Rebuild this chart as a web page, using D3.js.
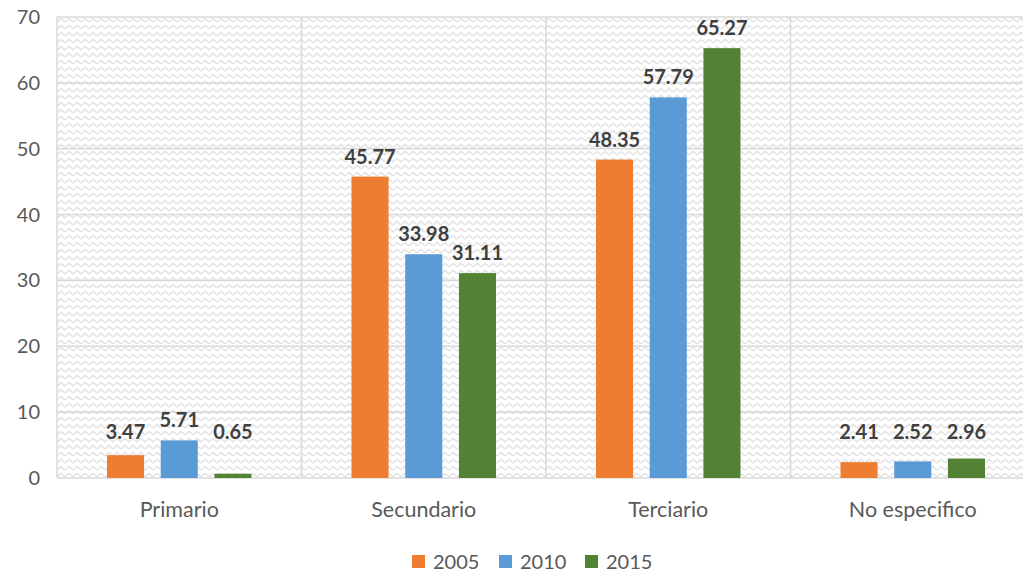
<!DOCTYPE html>
<html>
<head>
<meta charset="utf-8">
<script src="https://cdn.jsdelivr.net/npm/d3@7"></script>
<style>
  body { margin: 0; background: #fff; }
  svg { display: block; font-family: Lato, "Open Sans", sans-serif; }
</style>
</head>
<body>
<div id="chart"></div>
<script>
// Data
var categories = ["Primario", "Secundario", "Terciario", "No especifico"];
var years = ["2005", "2010", "2015"];
var values2005 = [3.47, 45.77, 48.35, 2.41];
var values2010 = [5.71, 33.98, 57.79, 2.52];
var values2015 = [0.65, 31.11, 65.27, 2.96];
var yTicks = [0, 10, 20, 30, 40, 50, 60, 70];
var colors = ["#ED7D31", "#5B9BD5", "#548235"];

var series = [values2005, values2010, values2015];

// Chart dimensions
var width = 1023, height = 573;
var margin = { top: 17, right: -12, bottom: 95, left: 57 };
var innerW = width - margin.left - margin.right;
var innerH = height - margin.top - margin.bottom;

var svg = d3.select("#chart").append("svg")
    .attr("width", width)
    .attr("height", height);

// zigzag background pattern
var defs = svg.append("defs");
var pat = defs.append("pattern")
    .attr("id", "zigzag")
    .attr("patternUnits", "userSpaceOnUse")
    .attr("width", 8).attr("height", 7);
pat.append("rect").attr("width", 8).attr("height", 7).attr("fill", "#ffffff");
pat.append("path")
    .attr("d", "M0,5 L4,1.5 L8,5")
    .attr("fill", "none")
    .attr("stroke", "#e2e2e2")
    .attr("stroke-width", 1.4);

var g = svg.append("g")
    .attr("transform", "translate(" + margin.left + "," + margin.top + ")");

// Scales
var x0 = d3.scaleBand().domain(categories).range([0, innerW]).paddingInner(0).paddingOuter(0);
var x1 = d3.scaleBand().domain(years).range([50, x0.bandwidth() - 50]).paddingInner(0.31).paddingOuter(0);
var y = d3.scaleLinear().domain([0, 70]).range([innerH, 0]);

g.append("rect")
    .attr("width", innerW).attr("height", innerH)
    .attr("fill", "url(#zigzag)");

// gridlines
g.selectAll(".hgrid").data(yTicks).enter().append("line")
    .attr("x1", 0).attr("x2", innerW)
    .attr("y1", function (d) { return y(d); })
    .attr("y2", function (d) { return y(d); })
    .attr("stroke", "#d9d9d9").attr("stroke-width", 1.5);

g.selectAll(".vgrid").data(categories).enter().append("line")
    .attr("x1", function (d) { return x0(d); })
    .attr("x2", function (d) { return x0(d); })
    .attr("y1", 0).attr("y2", innerH)
    .attr("stroke", "#d9d9d9").attr("stroke-width", 1.5);

// Y axis labels
g.selectAll(".ylab").data(yTicks).enter().append("text")
    .attr("x", -17)
    .attr("y", function (d) { return y(d); })
    .attr("dy", "0.35em")
    .attr("text-anchor", "end")
    .attr("font-size", 20)
    .attr("fill", "#595959")
    .text(function (d) { return d; });

// category labels
g.selectAll(".xlab").data(categories).enter().append("text")
    .attr("x", function (d) { return x0(d) + x0.bandwidth() / 2; })
    .attr("y", innerH + 31)
    .attr("dy", "0.35em")
    .attr("text-anchor", "middle")
    .attr("font-size", 21.5)
    .attr("fill", "#595959")
    .text(function (d) { return d; });

// bars
years.forEach(function (yr, si) {
    var vals = series[si];
    g.selectAll(".bar" + yr).data(categories).enter().append("rect")
        .attr("x", function (d) { return x0(d) + x1(yr); })
        .attr("width", x1.bandwidth())
        .attr("y", function (d, i) { return y(vals[i]); })
        .attr("height", function (d, i) { return innerH - y(vals[i]); })
        .attr("fill", colors[si]);

    g.selectAll(".lbl" + yr).data(categories).enter().append("text")
        .attr("x", function (d) { return x0(d) + x1(yr) + x1.bandwidth() / 2; })
        .attr("y", function (d, i) { return Math.min(y(vals[i]) - 20, innerH - 46); })
        .attr("dy", "0.35em")
        .attr("text-anchor", "middle")
        .attr("font-size", 20)
        .attr("font-weight", "bold")
        .attr("fill", "#404040")
        .text(function (d, i) { return vals[i].toFixed(2); });
});

// legend
var legendItems = [
    { label: years[0], x: 412 },
    { label: years[1], x: 499 },
    { label: years[2], x: 585 }
];
var lg = svg.append("g");
legendItems.forEach(function (it, i) {
    lg.append("rect")
        .attr("x", it.x).attr("y", 555)
        .attr("width", 13).attr("height", 13)
        .attr("fill", colors[i]);
    lg.append("text")
        .attr("x", it.x + 21).attr("y", 562)
        .attr("dy", "0.35em")
        .attr("font-size", 20)
        .attr("fill", "#595959")
        .text(it.label);
});
</script>
</body>
</html>
